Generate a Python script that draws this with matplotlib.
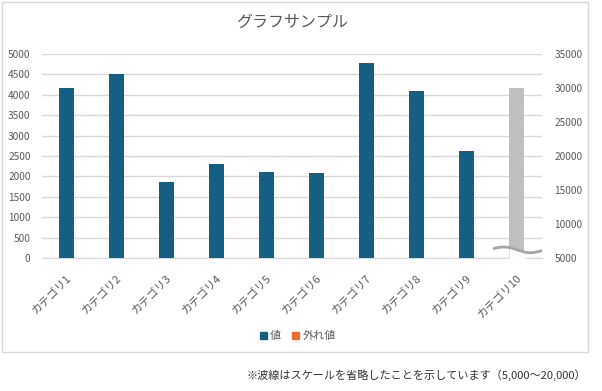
import numpy as np
import matplotlib
matplotlib.use("Agg")
import matplotlib.pyplot as plt
import matplotlib.transforms as mtransforms
from matplotlib.patches import Rectangle, Patch

plt.rcParams['font.family'] = ['Noto Sans CJK JP', 'DejaVu Sans']

title = "グラフサンプル"
categories = [f"カテゴリ{i}" for i in range(1, 11)]
values = [4165, 4500, 1860, 2300, 2120, 2095, 4770, 4090, 2630]  # categories 1-9, left axis
outlier_value = 30000  # category 10, right axis
left_ticks = list(range(0, 5001, 500))
right_ticks = list(range(5000, 35001, 5000))
legend_labels = ["値", "外れ値"]
footnote = "※波線はスケールを省略したことを示しています（5,000～20,000）"

BLUE = "#156082"
ORANGE = "#E97132"
GRAY_BAR = "#BFBFBF"
GRID = "#D9D9D9"
TXT = "#595959"

W, H = 602, 391
fig = plt.figure(figsize=(W / 100, H / 100), dpi=100)

ax = fig.add_axes([41.7 / W, 1 - 258 / H, (542 - 41.7) / W, (258 - 54) / H])
ax2 = ax.twinx()

x = np.arange(len(categories))
bw = 0.3
ax.bar(x[:len(values)], values, width=bw, color=BLUE, zorder=3)
ax2.bar(x[-1], outlier_value, width=bw, color=GRAY_BAR, zorder=3)

ax.set_xlim(-0.5, len(categories) - 0.5)
ax.set_ylim(0, 5000)
ax2.set_ylim(5000, 35000)
ax.set_yticks(left_ticks)
ax2.set_yticks(right_ticks)
ax.yaxis.grid(True, color=GRID, linewidth=1, zorder=0)
ax.set_axisbelow(True)

for a in (ax, ax2):
    for s in a.spines.values():
        s.set_visible(False)
    a.tick_params(length=0, labelsize=7.3, labelcolor=TXT)
ax.spines['bottom'].set_visible(True)
ax.spines['bottom'].set_color(GRID)
ax.tick_params(axis='y', pad=8)
ax2.tick_params(axis='y', pad=9)

ax.set_xticks(x)
ax.set_xticklabels(categories, rotation=45, ha='right', va='center',
                   rotation_mode='anchor', fontsize=8, color=TXT)
ax.tick_params(axis='x', pad=13)
offset = mtransforms.ScaledTranslation(3 / 100, 0, fig.dpi_scale_trans)
for lbl in ax.get_xticklabels():
    lbl.set_transform(lbl.get_transform() + offset)

# wave mark indicating omitted scale, drawn at bottom of the outlier bar
xc = x[-1]
wx = np.linspace(xc - 0.46, xc + 0.5, 200)
base = 5000 + 0.04 * 30000
wy = base - 0.012 * 30000 * np.sin((wx - xc) / 0.5 * np.pi) - 0.004 * 30000 * (wx - xc) / 0.5
in_bar = np.abs(wx - xc) <= bw / 2
ax2.fill_between(wx[in_bar], 5000, wy[in_bar] - 100, color="white", zorder=4)
ax2.plot(wx, wy, color="#A6A6A6", lw=2.0, zorder=5, solid_capstyle='round')

fig.text(292 / W, 1 - 22 / H, title, ha='center', va='center', fontsize=11.5, color=TXT)

handles = [Patch(color=BLUE), Patch(color=ORANGE)]
fig.legend(handles, legend_labels, loc='center', bbox_to_anchor=(298 / W, 1 - 336 / H),
           ncol=2, frameon=False, fontsize=8, labelcolor=TXT,
           handlelength=0.6, handleheight=0.6, handletextpad=0.3, columnspacing=1.0)

fig.patches.append(Rectangle((1.5 / W, 1 - 352 / H), (588 - 1.5) / W, (352 - 1.5) / H,
                             transform=fig.transFigure, fill=False, edgecolor=GRID, lw=1))

fig.text(586 / W, 1 - 375 / H, footnote, ha='right', va='center', fontsize=8, color="#333333")

fig.savefig("out.png", dpi=100, facecolor="white")
